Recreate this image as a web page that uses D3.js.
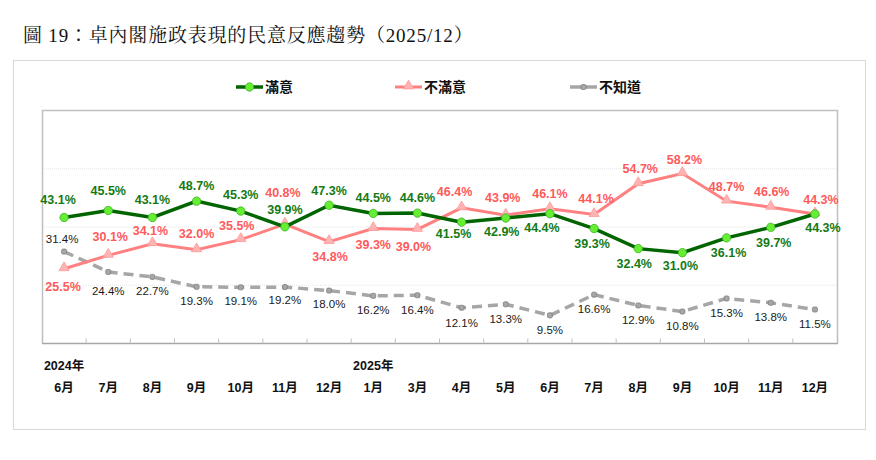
<!DOCTYPE html>
<html><head><meta charset="utf-8">
<script src="https://cdn.jsdelivr.net/npm/d3@7"></script>
<style>
html,body{margin:0;padding:0;background:#fff;}
svg{display:block;}
</style></head>
<body>
<svg id="chart" width="876" height="460"></svg>
<script>
const months = ["6月","7月","8月","9月","10月","11月","12月","1月","3月","4月","5月","6月","7月","8月","9月","10月","11月","12月"];
const yearLabels = [{idx:0, text:"2024年"},{idx:7, text:"2025年"}];
const satisfied   = [43.1,45.5,43.1,48.7,45.3,39.9,47.3,44.5,44.6,41.5,42.9,44.4,39.3,32.4,31.0,36.1,39.7,44.3];
const unsatisfied = [25.5,30.1,34.1,32.0,35.5,40.8,34.8,39.3,39.0,46.4,43.9,46.1,44.1,54.7,58.2,48.7,46.6,44.3];
const unknown     = [31.4,24.4,22.7,19.3,19.1,19.2,18.0,16.2,16.4,12.1,13.3,9.5,16.6,12.9,10.8,15.3,13.8,11.5];
const seriesNames = ["滿意","不滿意","不知道"];
const yTicks = [0,20,40,60,80];

// label placement (dx, dy from point) per series
const offSat = [[-6,-18],[0,-20],[0,-18],[0,-16],[0,-16],[0,-17],[0,-15],[0,-16],[0,-15],[-8,11],[-4,14],[-8,14],[-2,15],[-4,15],[-2,13],[2,15],[3,15],[8,14]];
const offUns = [[-1,18],[2,-19],[-2,-13],[0,-16],[-4,-14],[-2,-32],[1,15],[0,16],[-4,17],[-7,-16],[-3,-18],[0,-15],[2,-16],[2,-15],[2,-14],[0,-15],[1,-16],[6,-14]];
const offUnk = [[-2,-13],[0,19],[0,14],[0,14],[0,14],[0,13],[0,13],[0,14],[0,15],[0,15],[0,15],[0,15],[0,14],[0,15],[0,14],[0,15],[0,14],[0,14]];

const svg = d3.select("#chart");
const L = 42, R = 837, T = 110, B = 343;
const FONT = "'Liberation Sans', Arial, 'Noto Sans CJK TC', sans-serif";

// outer frame
svg.append("rect").attr("x",13.5).attr("y",60.5).attr("width",852).attr("height",369)
  .attr("fill","none").attr("stroke","#d9d9d9").attr("stroke-width",1);

// title
svg.append("text").attr("x",23).attr("y",42)
  .attr("font-family","'Liberation Serif','Noto Serif CJK TC','Noto Sans CJK TC',serif")
  .attr("font-size",19).attr("letter-spacing",0.8).attr("fill","#111")
  .text("圖 19：卓內閣施政表現的民意反應趨勢（2025/12）");

const idx = months.map((d,i)=>i);
const x = d3.scaleBand().domain(idx).range([L,R]);
const y = d3.scaleLinear().domain([0,80]).range([B,T]);
const cx = i => x(i) + x.bandwidth()/2;

// gridlines
svg.append("g").selectAll("line").data(yTicks.filter(t=>t>0 && t<80)).join("line")
  .attr("x1",L).attr("x2",R).attr("y1",d=>y(d)+0.5).attr("y2",d=>y(d)+0.5)
  .attr("stroke","#e6e6e6").attr("stroke-width",1).attr("stroke-dasharray","1,1");

// plot border (left, top, right)
svg.append("path").attr("d",`M${L+0.5},${B}V${T+0.5}H${R+0.5}V${B}`)
  .attr("fill","none").attr("stroke","#bfbfbf").attr("stroke-width",1.5);

// bottom axis with inner ticks at band boundaries
const axisG = svg.append("g").attr("transform",`translate(0,${B+0.5})`);
axisG.append("line").attr("x1",L).attr("x2",R+1).attr("stroke","#a6a6a6").attr("stroke-width",1.5);
axisG.selectAll("line.tk").data(idx.slice(1)).join("line").attr("class","tk")
  .attr("x1",d=>x(d)).attr("x2",d=>x(d)).attr("y1",0).attr("y2",-5)
  .attr("stroke","#bfbfbf").attr("stroke-width",1);

// month labels
svg.append("g").selectAll("text").data(idx).join("text")
  .attr("x",d=>cx(d)).attr("y",392).attr("text-anchor","middle")
  .attr("font-family",FONT).attr("font-size",12.5).attr("font-weight","bold").attr("fill","#111")
  .text(d=>months[d]);
svg.append("g").selectAll("text").data(yearLabels).join("text")
  .attr("x",d=>cx(d.idx)).attr("y",370).attr("text-anchor","middle")
  .attr("font-family",FONT).attr("font-size",12.5).attr("font-weight","bold").attr("fill","#111")
  .text(d=>d.text);

const line = d3.line().x((d,i)=>cx(i)).y(d=>y(d));

// unknown (gray dashed)
svg.append("path").datum(unknown).attr("d",line).attr("fill","none")
  .attr("stroke","#a6a6a6").attr("stroke-width",3.5).attr("stroke-dasharray","10,6");
svg.append("g").selectAll("rect").data(unknown).join("rect")
  .attr("x",(d,i)=>cx(i)-2.5).attr("y",d=>y(d)-2.5).attr("width",5).attr("height",5).attr("rx",1.5)
  .attr("fill","#a6a6a6").attr("stroke","#7f7f7f").attr("stroke-width",0.8);

// unsatisfied (red)
svg.append("path").datum(unsatisfied).attr("d",line).attr("fill","none")
  .attr("stroke","#ff8080").attr("stroke-width",3);
const tri = d3.symbol().type(d3.symbolTriangle).size(45);
svg.append("g").selectAll("path").data(unsatisfied).join("path")
  .attr("d",tri).attr("transform",(d,i)=>`translate(${cx(i)},${y(d)-1})`)
  .attr("fill","#ffb3b3").attr("stroke","#ff9999").attr("stroke-width",0.8);

// satisfied (green)
svg.append("path").datum(satisfied).attr("d",line).attr("fill","none")
  .attr("stroke","#006400").attr("stroke-width",3.5);
svg.append("g").selectAll("circle").data(satisfied).join("circle")
  .attr("cx",(d,i)=>cx(i)).attr("cy",d=>y(d)).attr("r",4.2)
  .attr("fill","#66ee33").attr("stroke","#3cb028").attr("stroke-width",0.8);

// data labels
function labels(data, offs, color, size, weight){
  svg.append("g").selectAll("text").data(data).join("text")
    .attr("x",(d,i)=>cx(i)+offs[i][0]).attr("y",(d,i)=>y(d)+offs[i][1])
    .attr("dy","0.35em").attr("text-anchor","middle")
    .attr("font-family",FONT).attr("font-size",size).attr("font-weight",weight).attr("fill",color)
    .text(d=>d.toFixed(1)+"%");
}
labels(unknown, offUnk, "#1a1a1a", 11.5, "normal");
labels(unsatisfied, offUns, "#ff5a5a", 12.5, "bold");
labels(satisfied, offSat, "#137a13", 12.5, "bold");

// legend
const legend = [
  {name:seriesNames[0], x:236, color:"#006400", w:3.5, mk:"circle"},
  {name:seriesNames[1], x:395, color:"#ff8080", w:3, mk:"tri"},
  {name:seriesNames[2], x:570, color:"#a6a6a6", w:3.5, mk:"sq"}
];
const LY = 87;
const lg = svg.append("g").selectAll("g").data(legend).join("g");
lg.append("line").attr("x1",d=>d.x).attr("x2",d=>d.x+27).attr("y1",LY).attr("y2",LY)
  .attr("stroke",d=>d.color).attr("stroke-width",d=>d.w);
lg.each(function(d){
  const g = d3.select(this), mx = d.x+13.5;
  if(d.mk==="circle") g.append("circle").attr("cx",mx).attr("cy",LY).attr("r",4.2).attr("fill","#66ee33").attr("stroke","#3cb028").attr("stroke-width",0.8);
  else if(d.mk==="tri") g.append("path").attr("d",tri).attr("transform",`translate(${mx},${LY-1})`).attr("fill","#ffb3b3").attr("stroke","#ff9999").attr("stroke-width",0.8);
  else g.append("rect").attr("x",mx-2.5).attr("y",LY-2.5).attr("width",5).attr("height",5).attr("rx",1.5).attr("fill","#a6a6a6").attr("stroke","#7f7f7f").attr("stroke-width",0.8);
});
lg.append("text").attr("x",d=>d.x+29).attr("y",LY).attr("dy","0.36em")
  .attr("font-family","'Noto Sans CJK TC', sans-serif").attr("font-size",14).attr("font-weight","bold").attr("fill","#111")
  .text(d=>d.name);
</script>
</body></html>
